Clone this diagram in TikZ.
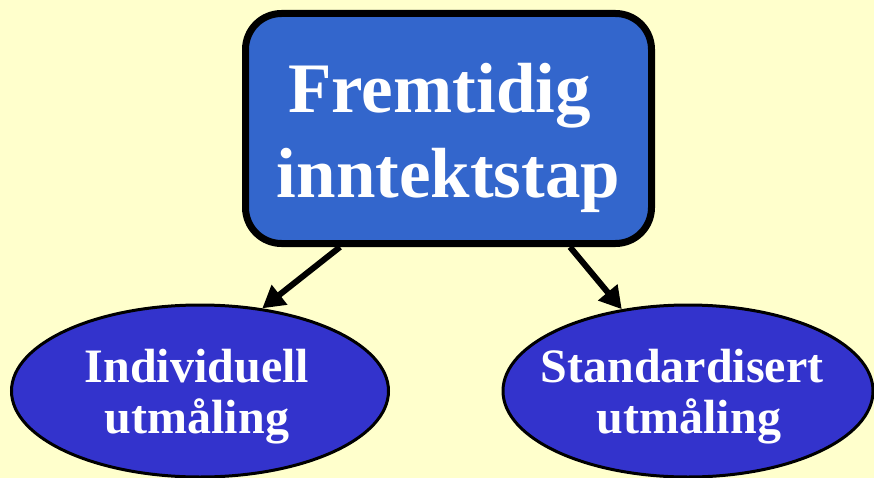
\documentclass[tikz,border=0pt]{standalone}
\usepackage{fontspec}
\setmainfont{Liberation Serif}
\usetikzlibrary{arrows.meta,shapes.geometric,calc}
\definecolor{bg}{HTML}{FFFFCC}
\definecolor{boxblue}{HTML}{3366CC}
\definecolor{ellblue}{HTML}{3333CC}
\tikzset{
  mainbox/.style={draw=black, line width=7pt, fill=boxblue, rounded corners=36pt,
    minimum width=406pt, minimum height=230pt, inner sep=0pt},
  titletext/.style={text=white, font=\fontsize{71}{85}\selectfont\bfseries, align=center, inner sep=0pt},
  oval/.style={ellipse, draw=black, line width=3pt, fill=ellblue, inner sep=0pt},
  ovaltext/.style={text=white, font=\fontsize{48}{51}\selectfont\bfseries, align=center, inner sep=0pt},
  link/.style={line width=6pt, -{Triangle[length=22pt,width=24pt]}},
}
\begin{document}
\begin{tikzpicture}[x=1pt,y=-1pt]
\fill[bg] (0,0) rectangle (874,478);
\useasboundingbox (0,0) rectangle (874,478);
\node[mainbox] (box) at (448.5,128.5) {};
\node[titletext] (title) at (448.5,138) {Fremtidig\hspace*{18pt}\\inntektstap};
\node[oval, minimum width=377pt, minimum height=172pt] (left) at (200,391) {};
\node[ovaltext] (lefttext) at (197,397) {Individuell\\utmåling};
\node[oval, minimum width=370pt, minimum height=172pt] (right) at (688,391) {};
\node[ovaltext] (righttext) at (689,397) {Standardisert\hspace*{14pt}\\utmåling};
\draw[link] ($(box.south)+(-108.5,0)$) -- (left.53);
\draw[link] ($(box.south)+(121.5,0)$) -- (right.129);
\end{tikzpicture}
\end{document}
